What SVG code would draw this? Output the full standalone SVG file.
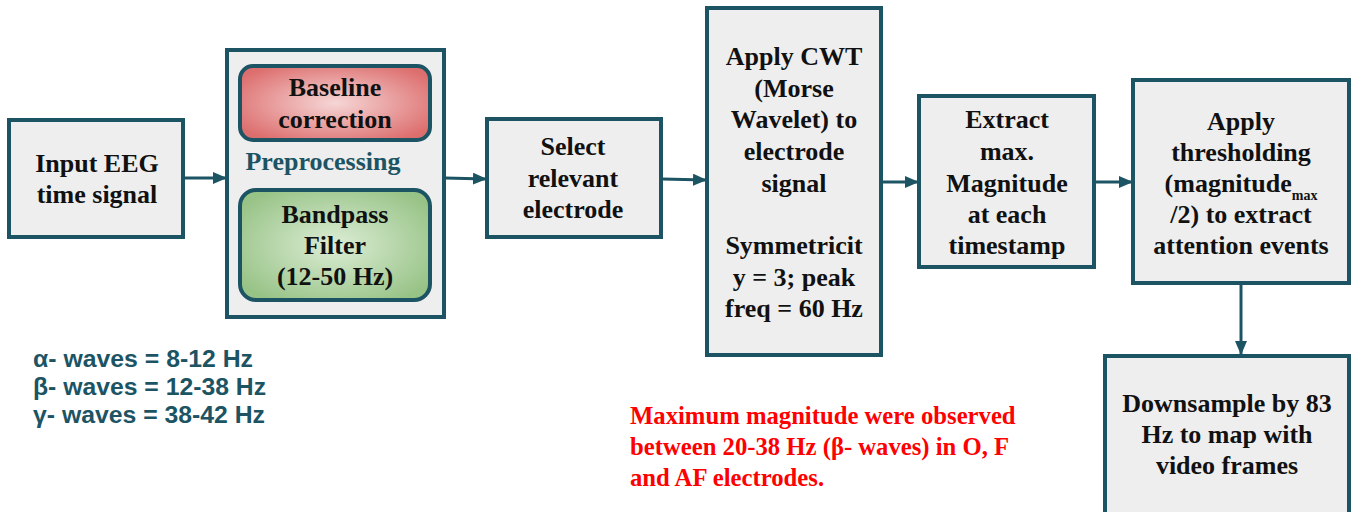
<svg xmlns="http://www.w3.org/2000/svg" width="1364" height="512" viewBox="0 0 1364 512">
<defs>
<radialGradient id="gRed" cx="50%" cy="50%" r="60%">
<stop offset="0" stop-color="#f6d6d6"/>
<stop offset="1" stop-color="#dd6e6e"/>
</radialGradient>
<radialGradient id="gGreen" cx="50%" cy="50%" r="60%">
<stop offset="0" stop-color="#dcedd5"/>
<stop offset="1" stop-color="#98c387"/>
</radialGradient>
<marker id="arr" markerWidth="14" markerHeight="12" refX="13" refY="6" orient="auto" markerUnits="userSpaceOnUse">
<path d="M0,0 L14,6 L0,12 Z" fill="#1c5464"/>
</marker>
</defs>
<style>
.box{fill:#eeeeee;stroke:#1c5464;stroke-width:4}
.t{font-family:"Liberation Serif","Times New Roman",serif;font-weight:bold;font-size:26px;fill:#111;text-anchor:middle}
.red{font-family:"Liberation Serif","Times New Roman",serif;font-weight:bold;font-size:24.7px;fill:#ff0000}
.leg{font-family:"Liberation Sans",Arial,sans-serif;font-weight:bold;font-size:23px;fill:#1c5464}
.c{fill:none;stroke:#1c5464;stroke-width:3;marker-end:url(#arr)}
</style>
<rect width="1364" height="512" fill="#ffffff"/>
<g id="connectors">
<line class="c" x1="184" y1="178" x2="226" y2="178"/>
<line class="c" x1="445" y1="178" x2="486" y2="179"/>
<line class="c" x1="662" y1="179" x2="706" y2="180"/>
<line class="c" x1="882" y1="182" x2="918" y2="182"/>
<line class="c" x1="1095" y1="182" x2="1132" y2="182"/>
<line class="c" x1="1241" y1="284" x2="1241" y2="354"/>
</g>
<g id="input">
<rect class="box" x="9" y="120" width="174" height="117"/>
<text class="t" x="97" y="172">Input EEG</text>
<text class="t" x="97" y="203">time signal</text>
</g>
<g id="preprocessing">
<rect class="box" x="227" y="50" width="217" height="267"/>
<text class="t" x="323" y="170" style="fill:#1c5464">Preprocessing</text>
</g>
<g id="baseline">
<rect x="240" y="66" width="190" height="74" rx="13" fill="url(#gRed)" stroke="#1c5464" stroke-width="4"/>
<text class="t" x="335" y="96">Baseline</text>
<text class="t" x="335" y="128">correction</text>
</g>
<g id="bandpass">
<rect x="240" y="190" width="190" height="110" rx="16" fill="url(#gGreen)" stroke="#1c5464" stroke-width="4"/>
<text class="t" x="335" y="223">Bandpass</text>
<text class="t" x="335" y="254">Filter</text>
<text class="t" x="335" y="285">(12-50 Hz)</text>
</g>
<g id="select">
<rect class="box" x="487" y="119" width="174" height="118"/>
<text class="t" x="573" y="155">Select</text>
<text class="t" x="573" y="187">relevant</text>
<text class="t" x="573" y="218">electrode</text>
</g>
<g id="cwt">
<rect class="box" x="707" y="8" width="174" height="347"/>
<text class="t" x="794" y="65">Apply CWT</text>
<text class="t" x="794" y="97">(Morse</text>
<text class="t" x="794" y="128">Wavelet) to</text>
<text class="t" x="794" y="160">electrode</text>
<text class="t" x="794" y="192">signal</text>
<text class="t" x="794" y="254">Symmetricit</text>
<text class="t" x="794" y="286">y = 3; peak</text>
<text class="t" x="794" y="317">freq = 60 Hz</text>
</g>
<g id="extract">
<rect class="box" x="919" y="96" width="175" height="171"/>
<text class="t" x="1007" y="128">Extract</text>
<text class="t" x="1007" y="160">max.</text>
<text class="t" x="1007" y="192">Magnitude</text>
<text class="t" x="1007" y="223">at each</text>
<text class="t" x="1007" y="254">timestamp</text>
</g>
<g id="threshold">
<rect class="box" x="1133" y="80" width="216" height="203"/>
<text class="t" x="1241" y="130">Apply</text>
<text class="t" x="1241" y="161">thresholding</text>
<text class="t" x="1241" y="192">(magnitude<tspan font-size="14" dy="8">max</tspan></text>
<text class="t" x="1241" y="223">/2) to extract</text>
<text class="t" x="1241" y="254">attention events</text>
</g>
<g id="downsample">
<rect class="box" x="1105" y="356" width="244" height="170"/>
<text class="t" x="1227" y="412">Downsample by 83</text>
<text class="t" x="1227" y="443">Hz to map with</text>
<text class="t" x="1227" y="474">video frames</text>
</g>
<g id="legend">
<text class="leg" x="33" y="367" textLength="220" lengthAdjust="spacingAndGlyphs">α- waves = 8-12 Hz</text>
<text class="leg" x="33" y="395" textLength="233" lengthAdjust="spacingAndGlyphs">β- waves = 12-38 Hz</text>
<text class="leg" x="33" y="423" textLength="232" lengthAdjust="spacingAndGlyphs">γ- waves = 38-42 Hz</text>
</g>
<g id="note">
<text class="red" x="630" y="424">Maximum magnitude were observed</text>
<text class="red" x="630" y="455">between 20-38 Hz (β- waves) in O, F</text>
<text class="red" x="630" y="486">and AF electrodes.</text>
</g>
</svg>
